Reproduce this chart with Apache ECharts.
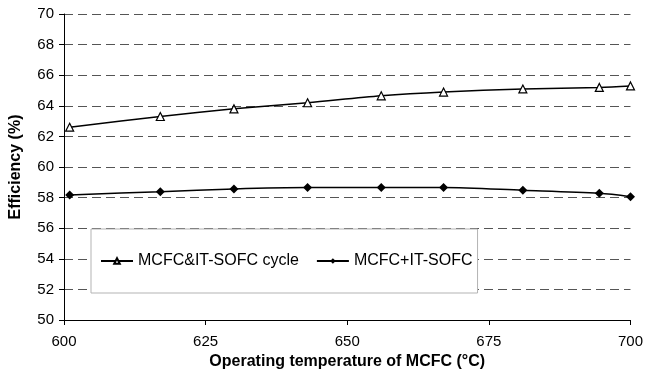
<!DOCTYPE html>
<html>
<head>
<meta charset="utf-8">
<script src="https://cdn.jsdelivr.net/npm/echarts@6/dist/echarts.min.js"></script>
<style>
html,body{margin:0;padding:0;background:#fff;}
#chart{width:646px;height:375px;}
</style>
</head>
<body>
<div id="chart"></div>
<script>
// Data
var temperatures = [601, 617, 630, 643, 656, 667, 681, 694.5, 700];
var cycleEfficiency = [62.6, 63.3, 63.8, 64.2, 64.65, 64.9, 65.1, 65.2, 65.3];
var hybridEfficiency = [58.17, 58.39, 58.57, 58.66, 58.66, 58.66, 58.48, 58.28, 58.06];
var seriesNames = ['MCFC&IT-SOFC cycle', 'MCFC+IT-SOFC'];
var xTitle = 'Operating temperature of MCFC (°C)';
var yTitle = 'Efficiency (%)';

function pairs(xs, ys) { return xs.map(function (x, i) { return [x, ys[i]]; }); }

var font = 'Liberation Sans, Arial, sans-serif';
var chart = echarts.init(document.getElementById('chart'), null, {renderer: 'canvas'});
chart.setOption({
  backgroundColor: '#fff',
  animation: false,
  grid: {left: 63, right: 13, top: 14, bottom: 53, containLabel: false},
  legend: {
    left: 91, top: 229,
    padding: [24, 5, 24, 9],
    backgroundColor: '#fff',
    borderColor: '#b3b3b3',
    borderWidth: 1,
    borderRadius: 0,
    itemWidth: 32, itemHeight: 7, itemGap: 17,
    textStyle: {fontFamily: font, fontSize: 16, color: '#000'},
    data: seriesNames
  },
  xAxis: {
    type: 'value', min: 600, max: 700, interval: 25,
    name: xTitle, nameLocation: 'middle', nameGap: 34,
    nameTextStyle: {fontFamily: font, fontSize: 16, fontWeight: 'bold', color: '#000'},
    axisLine: {show: true, lineStyle: {color: '#000', width: 1}},
    axisTick: {show: true, length: 5, inside: false, lineStyle: {color: '#000'}},
    axisLabel: {fontFamily: font, fontSize: 15, color: '#000', margin: 14},
    splitLine: {show: false}
  },
  yAxis: {
    type: 'value', min: 50, max: 70, interval: 2,
    name: yTitle, nameLocation: 'middle', nameGap: 40,
    nameTextStyle: {fontFamily: font, fontSize: 16, fontWeight: 'bold', color: '#000'},
    axisLine: {show: true, lineStyle: {color: '#000', width: 1}},
    axisTick: {show: true, length: 5, inside: false, lineStyle: {color: '#000'}},
    axisLabel: {fontFamily: font, fontSize: 15, color: '#000', margin: 10},
    splitLine: {show: true, lineStyle: {color: '#555', width: 1, type: [9, 5]}}
  },
  series: [
    {
      name: seriesNames[0], type: 'line', smooth: 0.3,
      data: pairs(temperatures, cycleEfficiency),
      symbol: 'triangle', symbolSize: 8,
      lineStyle: {color: '#000', width: 1.5},
      itemStyle: {color: '#fff', borderColor: '#000', borderWidth: 1.2},
      z: 3
    },
    {
      name: seriesNames[1], type: 'line', smooth: 0.3,
      data: pairs(temperatures, hybridEfficiency),
      symbol: 'diamond', symbolSize: 9,
      lineStyle: {color: '#000', width: 1.5},
      itemStyle: {color: '#000', borderColor: '#000', borderWidth: 0},
      z: 3
    }
  ]
});
</script>
</body>
</html>
